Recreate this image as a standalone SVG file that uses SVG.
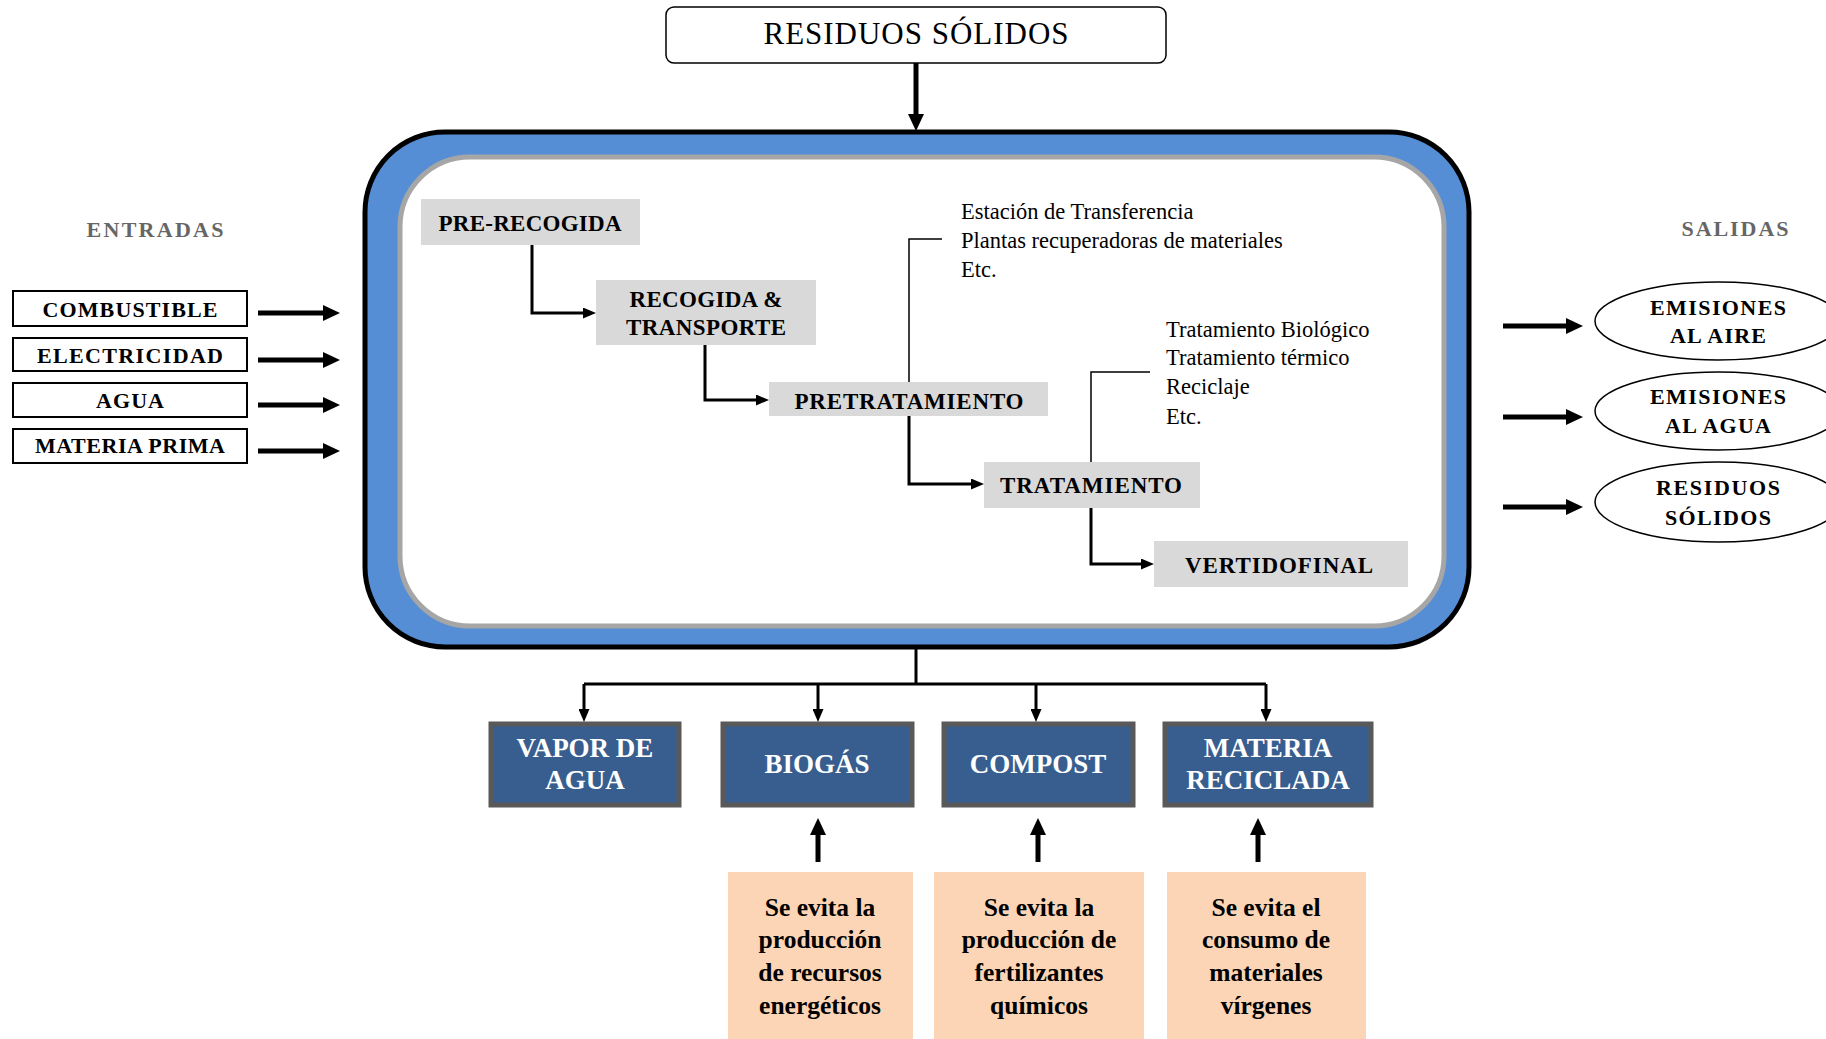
<svg xmlns="http://www.w3.org/2000/svg" width="1826" height="1039" viewBox="0 0 1826 1039">
  <style>
    .serif { font-family: "Liberation Serif", "Times New Roman", serif; }
    .lbl { font-family: "Liberation Serif", "Times New Roman", serif; font-weight: bold; fill: #000; text-anchor: middle; }
    .head { font-family: "Liberation Serif", "Times New Roman", serif; fill: #666; text-anchor: middle; font-size: 22px; font-weight: bold; }
    .note { font-family: "Liberation Serif", "Times New Roman", serif; font-size: 22.5px; fill: #000; }
    .inbox { fill: #fff; stroke: #000; stroke-width: 2; }
    .step { fill: #d9d9d9; }
    .out { fill: #375e8f; stroke: #595959; stroke-width: 5; }
    .outtxt { font-family: "Liberation Serif", "Times New Roman", serif; font-weight: bold; fill: #fff; text-anchor: middle; font-size: 27px; }
    .benefit { fill: #fbd5b5; }
    .bentxt { font-family: "Liberation Serif", "Times New Roman", serif; font-weight: bold; fill: #000; text-anchor: middle; font-size: 25.5px; }
    .ell { fill: #fff; stroke: #000; stroke-width: 1.5; }
    .thick { fill: none; stroke: #000; stroke-width: 5; }
    .flow { fill: none; stroke: #000; stroke-width: 3; }
    .thin { fill: none; stroke: #000; stroke-width: 1.5; }
  </style>
  <defs>
    <marker id="arrowL" markerUnits="userSpaceOnUse" markerWidth="17" markerHeight="16" refX="1" refY="8" orient="auto">
      <path d="M0,0 L17,8 L0,16 Z" fill="#000"/>
    </marker>
    <marker id="arrowS" markerUnits="userSpaceOnUse" markerWidth="13" markerHeight="11" refX="1" refY="5.5" orient="auto">
      <path d="M0,0 L13,5.5 L0,11 Z" fill="#000"/>
    </marker>
  </defs>

  <rect width="1826" height="1039" fill="#fff"/>

  <!-- top source box -->
  <g id="residuos-solidos-top">
    <rect x="666" y="7" width="500" height="56" rx="8" fill="#fff" stroke="#000" stroke-width="1.5"/>
    <text class="serif" x="916" y="44" font-size="31" text-anchor="middle" textLength="305" lengthAdjust="spacing">RESIDUOS SÓLIDOS</text>
  </g>

  <!-- process frame -->
  <g id="sistema">
    <rect x="365" y="132" width="1104" height="515" rx="80" fill="#558ed5" stroke="#000" stroke-width="5"/>
    <rect x="400" y="157" width="1044" height="469" rx="70" fill="#fff" stroke="#a6a6a6" stroke-width="5"/>
  </g>

  <!-- column headings -->
  <g id="entradas"><text class="head" x="155" y="237" textLength="137" lengthAdjust="spacing">ENTRADAS</text></g>
  <g id="salidas"><text class="head" x="1735" y="236" textLength="107" lengthAdjust="spacing">SALIDAS</text></g>

  <!-- inputs -->
  <g id="in-combustible">
    <rect class="inbox" x="13" y="291" width="234" height="35"/>
    <text class="lbl" x="130" y="317" font-size="22" textLength="175" lengthAdjust="spacing">COMBUSTIBLE</text>
  </g>
  <g id="in-electricidad">
    <rect class="inbox" x="13" y="338" width="234" height="33"/>
    <text class="lbl" x="130" y="363" font-size="22" textLength="186" lengthAdjust="spacing">ELECTRICIDAD</text>
  </g>
  <g id="in-agua">
    <rect class="inbox" x="13" y="383" width="234" height="34"/>
    <text class="lbl" x="130" y="408" font-size="22" textLength="68" lengthAdjust="spacing">AGUA</text>
  </g>
  <g id="in-materia-prima">
    <rect class="inbox" x="13" y="429" width="234" height="34"/>
    <text class="lbl" x="130" y="453" font-size="22" textLength="190" lengthAdjust="spacing">MATERIA PRIMA</text>
  </g>

  <!-- outputs -->
  <g id="out-aire">
    <ellipse class="ell" cx="1718" cy="321" rx="123" ry="39"/>
    <text class="lbl" x="1718" y="315" font-size="22" textLength="136" lengthAdjust="spacing">EMISIONES</text>
    <text class="lbl" x="1718" y="343" font-size="22" textLength="96" lengthAdjust="spacing">AL AIRE</text>
  </g>
  <g id="out-agua">
    <ellipse class="ell" cx="1718" cy="411" rx="123" ry="39"/>
    <text class="lbl" x="1718" y="404" font-size="22" textLength="136" lengthAdjust="spacing">EMISIONES</text>
    <text class="lbl" x="1718" y="433" font-size="22" textLength="106" lengthAdjust="spacing">AL AGUA</text>
  </g>
  <g id="out-residuos">
    <ellipse class="ell" cx="1718" cy="502" rx="123" ry="40"/>
    <text class="lbl" x="1718" y="495" font-size="22" textLength="124" lengthAdjust="spacing">RESIDUOS</text>
    <text class="lbl" x="1718" y="525" font-size="22" textLength="106" lengthAdjust="spacing">SÓLIDOS</text>
  </g>

  <!-- process steps -->
  <g id="pre-recogida">
    <rect class="step" x="421" y="199" width="219" height="46"/>
    <text class="lbl" x="530" y="231" font-size="23" textLength="183" lengthAdjust="spacing">PRE-RECOGIDA</text>
  </g>
  <g id="recogida-transporte">
    <rect class="step" x="596" y="280" width="220" height="65"/>
    <text class="lbl" x="706" y="307" font-size="23" textLength="153" lengthAdjust="spacing">RECOGIDA &amp;</text>
    <text class="lbl" x="706" y="335" font-size="23" textLength="160" lengthAdjust="spacing">TRANSPORTE</text>
  </g>
  <g id="pretratamiento">
    <rect class="step" x="769" y="382" width="279" height="34"/>
    <text class="lbl" x="909" y="409" font-size="23" textLength="229" lengthAdjust="spacing">PRETRATAMIENTO</text>
  </g>
  <g id="tratamiento">
    <rect class="step" x="984" y="462" width="216" height="46"/>
    <text class="lbl" x="1091" y="493" font-size="23" textLength="182" lengthAdjust="spacing">TRATAMIENTO</text>
  </g>
  <g id="vertido-final">
    <rect class="step" x="1154" y="541" width="254" height="46"/>
    <text class="lbl" x="1279" y="573" font-size="23" textLength="188" lengthAdjust="spacing">VERTIDOFINAL</text>
  </g>

  <!-- step annotations -->
  <g id="nota-pretratamiento">
    <text class="note" x="961" y="219">Estación de Transferencia</text>
    <text class="note" x="961" y="248">Plantas recuperadoras de materiales</text>
    <text class="note" x="961" y="277">Etc.</text>
  </g>
  <g id="nota-tratamiento">
    <text class="note" x="1166" y="337">Tratamiento Biológico</text>
    <text class="note" x="1166" y="365">Tratamiento térmico</text>
    <text class="note" x="1166" y="394">Reciclaje</text>
    <text class="note" x="1166" y="424">Etc.</text>
  </g>

  <!-- products -->
  <g id="vapor-de-agua">
    <rect class="out" x="491" y="724" width="188" height="81"/>
    <text class="outtxt" x="585" y="757">VAPOR DE</text>
    <text class="outtxt" x="585" y="789">AGUA</text>
  </g>
  <g id="biogas">
    <rect class="out" x="723" y="724" width="189" height="81"/>
    <text class="outtxt" x="817" y="773">BIOGÁS</text>
  </g>
  <g id="compost">
    <rect class="out" x="944" y="724" width="189" height="81"/>
    <text class="outtxt" x="1038" y="773">COMPOST</text>
  </g>
  <g id="materia-reciclada">
    <rect class="out" x="1165" y="724" width="206" height="81"/>
    <text class="outtxt" x="1268" y="757">MATERIA</text>
    <text class="outtxt" x="1268" y="789">RECICLADA</text>
  </g>

  <!-- avoided impacts -->
  <g id="beneficio-biogas">
    <rect class="benefit" x="728" y="872" width="185" height="167"/>
    <text class="bentxt" x="820" y="916">Se evita la</text>
    <text class="bentxt" x="820" y="948">producción</text>
    <text class="bentxt" x="820" y="981">de recursos</text>
    <text class="bentxt" x="820" y="1014">energéticos</text>
  </g>
  <g id="beneficio-compost">
    <rect class="benefit" x="934" y="872" width="210" height="167"/>
    <text class="bentxt" x="1039" y="916">Se evita la</text>
    <text class="bentxt" x="1039" y="948">producción de</text>
    <text class="bentxt" x="1039" y="981">fertilizantes</text>
    <text class="bentxt" x="1039" y="1014">químicos</text>
  </g>
  <g id="beneficio-materia">
    <rect class="benefit" x="1167" y="872" width="199" height="167"/>
    <text class="bentxt" x="1266" y="916">Se evita el</text>
    <text class="bentxt" x="1266" y="948">consumo de</text>
    <text class="bentxt" x="1266" y="981">materiales</text>
    <text class="bentxt" x="1266" y="1014">vírgenes</text>
  </g>

  <!-- connectors -->
  <g id="connectors">
    <line class="thick" x1="916" y1="63" x2="916" y2="115" stroke-width="4" marker-end="url(#arrowL)"/>

    <line class="thick" x1="258" y1="313" x2="324" y2="313" marker-end="url(#arrowL)"/>
    <line class="thick" x1="258" y1="360" x2="324" y2="360" marker-end="url(#arrowL)"/>
    <line class="thick" x1="258" y1="405" x2="324" y2="405" marker-end="url(#arrowL)"/>
    <line class="thick" x1="258" y1="451" x2="324" y2="451" marker-end="url(#arrowL)"/>

    <line class="thick" x1="1503" y1="326" x2="1567" y2="326" marker-end="url(#arrowL)"/>
    <line class="thick" x1="1503" y1="417" x2="1567" y2="417" marker-end="url(#arrowL)"/>
    <line class="thick" x1="1503" y1="507" x2="1567" y2="507" marker-end="url(#arrowL)"/>

    <path class="flow" d="M532,245 V313 H584" marker-end="url(#arrowS)"/>
    <path class="flow" d="M705,345 V400 H757" marker-end="url(#arrowS)"/>
    <path class="flow" d="M909,416 V484 H972" marker-end="url(#arrowS)"/>
    <path class="flow" d="M1091,508 V564 H1142" marker-end="url(#arrowS)"/>

    <path class="thin" d="M909,382 V239 H942"/>
    <path class="thin" d="M1091,462 V372 H1150"/>

    <path class="flow" d="M916,649 V684 M584,684 H1266" stroke-width="3.5"/>
    <line class="flow" x1="584" y1="684" x2="584" y2="710" stroke-width="3.5" marker-end="url(#arrowS)"/>
    <line class="flow" x1="818" y1="684" x2="818" y2="710" stroke-width="3.5" marker-end="url(#arrowS)"/>
    <line class="flow" x1="1036" y1="684" x2="1036" y2="710" stroke-width="3.5" marker-end="url(#arrowS)"/>
    <line class="flow" x1="1266" y1="684" x2="1266" y2="710" stroke-width="3.5" marker-end="url(#arrowS)"/>

    <line class="thick" x1="818" y1="862" x2="818" y2="834" marker-end="url(#arrowL)"/>
    <line class="thick" x1="1038" y1="862" x2="1038" y2="834" marker-end="url(#arrowL)"/>
    <line class="thick" x1="1258" y1="862" x2="1258" y2="834" marker-end="url(#arrowL)"/>
  </g>
</svg>
